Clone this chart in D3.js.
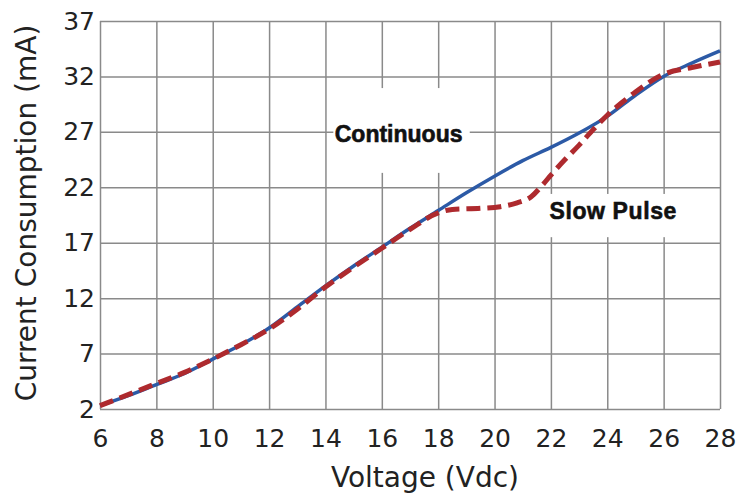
<!DOCTYPE html>
<html>
<head>
<meta charset="utf-8">
<script src="https://cdn.jsdelivr.net/npm/d3@7"></script>
<style>
  body { margin: 0; background: #fff; }
  .axis text { font-family: "DejaVu Sans", Verdana, sans-serif; font-size: 25px; fill: #222; }
  .axis line { stroke: #8a8a8a; stroke-width: 1.5px; }
  .title { font-family: "DejaVu Sans", Verdana, sans-serif; font-size: 28px; fill: #222; }
  .note { font-family: "Liberation Sans", Arial, sans-serif; font-weight: bold; font-size: 23px; fill: #111; stroke: #111; stroke-width: 0.6px; }
</style>
</head>
<body>
<div id="chart"></div>
<script>
// values
var contVolts = [6, 7, 8, 9, 10, 11, 12, 13, 14, 15, 16, 17, 18, 19, 20, 21, 22, 23, 24, 25, 26, 27, 28];
var contMA    = [2.3, 3.2, 4.2, 5.2, 6.5, 7.8, 9.3, 11.2, 13.1, 14.9, 16.6, 18.3, 19.9, 21.5, 23.0, 24.4, 25.6, 26.9, 28.4, 30.3, 32.0, 33.2, 34.3];
var pulseVolts = [6, 7, 8, 9, 10, 11, 12, 13, 14, 15, 16, 17, 18, 18.5, 19.5, 20.2, 20.8, 21.3, 21.7, 22, 22.5, 23, 23.5, 24, 24.5, 25, 26, 27, 28];
var pulseMA    = [2.3, 3.3, 4.3, 5.3, 6.5, 7.8, 9.2, 11.0, 13.0, 14.8, 16.5, 18.2, 19.7, 20.0, 20.1, 20.25, 20.6, 21.15, 22.2, 23.1, 24.5, 25.8, 27.2, 28.5, 29.6, 30.6, 32.2, 32.8, 33.3];
var xTicks = [6, 8, 10, 12, 14, 16, 18, 20, 22, 24, 26, 28];
var yTicks = [2, 7, 12, 17, 22, 27, 32, 37];

var W = 755, H = 495;
var margin = {top: 21, right: 35, bottom: 86, left: 100};
var w = W - margin.left - margin.right;
var h = H - margin.top - margin.bottom;

var svg = d3.select("#chart").append("svg")
    .attr("width", W)
    .attr("height", H);

var g = svg.append("g")
    .attr("transform", "translate(" + margin.left + "," + margin.top + ")");

var x = d3.scaleLinear().domain([6, 28]).range([0, w]);
var y = d3.scaleLinear().domain([2, 37]).range([h, 0]);

// grid + tick labels
var xAxis = g.append("g")
    .attr("class", "axis")
    .attr("transform", "translate(0," + h + ")")
    .call(d3.axisBottom(x).tickValues(xTicks).tickSize(-h).tickPadding(20).tickFormat(d3.format("d")));
xAxis.select(".domain").remove();

var yAxis = g.append("g")
    .attr("class", "axis")
    .call(d3.axisLeft(y).tickValues(yTicks).tickSize(-w).tickPadding(5).tickFormat(d3.format("d")));
yAxis.select(".domain").remove();

// white patches behind the labels (they cut the grid in the original)
g.append("rect")
    .attr("x", x(14.28)).attr("y", y(30.95))
    .attr("width", x(19.12) - x(14.28)).attr("height", y(23.3) - y(30.95))
    .attr("fill", "#fff");
g.append("rect")
    .attr("x", x(21.8)).attr("y", y(21.4))
    .attr("width", x(26.75) - x(21.8)).attr("height", y(17.5) - y(21.4))
    .attr("fill", "#fff");

g.append("text").attr("class", "note")
    .attr("x", x(14.33)).attr("y", y(26.1))
    .text("Continuous");
g.append("text").attr("class", "note")
    .attr("x", x(21.95)).attr("y", y(19.1))
    .style("letter-spacing", "0.6px")
    .text("Slow Pulse");

var line = d3.line()
    .x(function(d) { return x(d[0]); })
    .y(function(d) { return y(d[1]); })
    .curve(d3.curveMonotoneX);

var contData = contVolts.map(function(v, i) { return [v, contMA[i]]; });
var pulseData = pulseVolts.map(function(v, i) { return [v, pulseMA[i]]; });

g.append("path")
    .datum(contData)
    .attr("d", line)
    .attr("fill", "none")
    .attr("stroke", "#2c5aa6")
    .attr("stroke-width", 3.5);

g.append("path")
    .datum(pulseData)
    .attr("d", line)
    .attr("fill", "none")
    .attr("stroke", "#ae2a2e")
    .attr("stroke-width", 5)
    .attr("stroke-dasharray", "14,7");

// axis titles
svg.append("text").attr("class", "title")
    .attr("x", 425).attr("y", 487)
    .attr("text-anchor", "middle")
    .text("Voltage (Vdc)");

svg.append("text").attr("class", "title")
    .attr("transform", "translate(36,213) rotate(-90)")
    .attr("text-anchor", "middle")
    .text("Current Consumption (mA)");
</script>
</body>
</html>
